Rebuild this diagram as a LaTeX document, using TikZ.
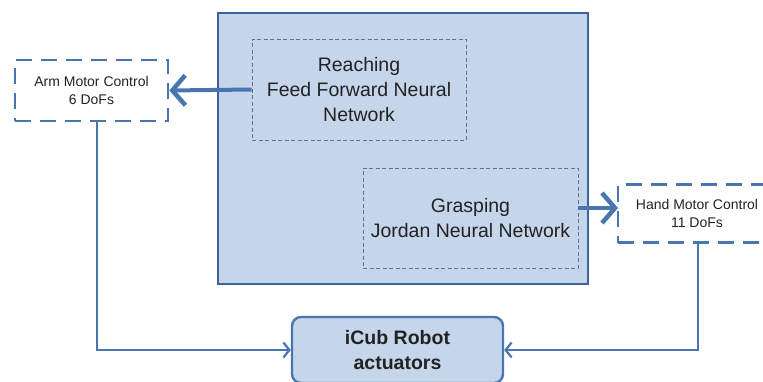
\documentclass[tikz,border=0pt]{standalone}
\usepackage{fontspec}
\setmainfont{Liberation Sans}
\usetikzlibrary{arrows.meta}
\definecolor{bfill}{HTML}{C5D5EA}
\definecolor{bdark}{HTML}{3D639A}
\definecolor{bline}{HTML}{4A76B0}
\definecolor{dgrey}{HTML}{5E7496}
\definecolor{txt}{HTML}{222222}
\begin{document}
\begin{tikzpicture}[x=1pt,y=-1pt,
  bigbox/.style={draw=bdark,fill=bfill,line width=2.2pt,minimum width=370pt,minimum height=271pt,inner sep=0pt},
  innerbox/.style={draw=dgrey,line width=0.9pt,dash pattern=on 4pt off 2.5pt,align=center,inner sep=0pt,
     font=\fontsize{19.5}{25}\selectfont,text=txt},
  motorbox/.style={draw=bline,line width=2.6pt,dash pattern=on 16pt off 9pt,align=center,inner sep=0pt,
     font=\fontsize{14}{18}\selectfont,text=txt},
  robotbox/.style={draw=bline,fill=bfill,line width=2.4pt,rounded corners=9pt,align=center,inner sep=0pt,
     font=\bfseries\fontsize{19.5}{25}\selectfont,text=txt,minimum width=211pt,minimum height=66pt},
  thickarrow/.style={draw=bline,line width=4pt,-{Straight Barb[length=13pt,width=30pt,line width=4.5pt]}},
  thinarrow/.style={draw=bline,line width=2.2pt,-{Straight Barb[length=6pt,width=15pt,line width=2.2pt]}}
]
\useasboundingbox (0,0) rectangle (763,381);
\node[bigbox] (big) at (403,148.5) {};
\node[innerbox,minimum width=214pt,minimum height=101pt] (reach) at (359,89.5)
  {Reaching\\Feed Forward Neural\\Network};
\node[innerbox,minimum width=215pt,minimum height=100pt] (grasp) at (470.5,218)
  {Grasping\\Jordan Neural Network};
\node[motorbox,minimum width=153pt,minimum height=61pt] (arm) at (91.5,90.5)
  {Arm Motor Control\\6 DoFs};
\node[motorbox,minimum width=158pt,minimum height=58pt] (hand) at (697,213.5)
  {Hand Motor Control\\11 DoFs};
\node[robotbox] (icub) at (397.5,350) {iCub Robot\\actuators};
\coordinate (armdown) at (97,121);
\coordinate (handdown) at (698,242.5);
\coordinate (gout) at (578,208);
\coordinate (hin) at (618,208);
\draw[thickarrow] (reach.west) -- (arm.east);
\draw[thickarrow] (gout) -- (hin);
\draw[thinarrow] (armdown) |- (icub.west);
\draw[thinarrow] (handdown) |- (icub.east);
\end{tikzpicture}
\end{document}
